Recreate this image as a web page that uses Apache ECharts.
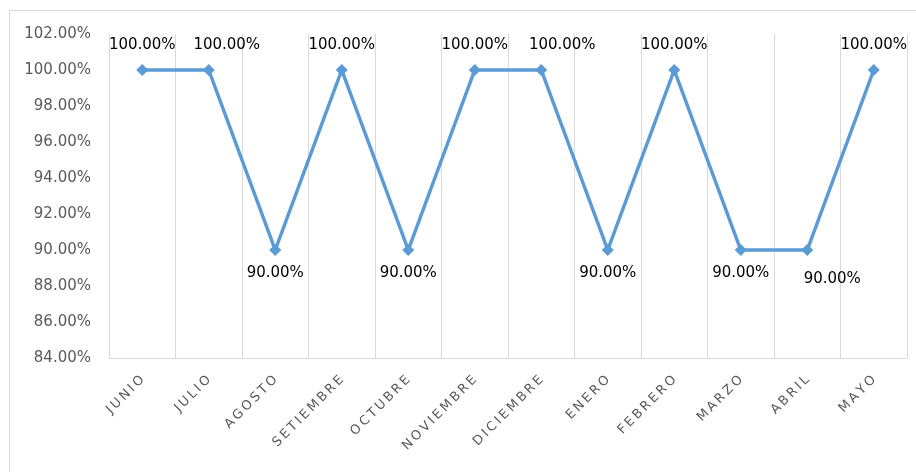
<!DOCTYPE html>
<html>
<head>
<meta charset="utf-8">
<script src="https://cdn.jsdelivr.net/npm/echarts@6/dist/echarts.min.js"></script>
<style>
  html, body { margin: 0; padding: 0; background: #ffffff; }
  #chart { width: 916px; height: 472px; }
</style>
</head>
<body>
<div id="chart"></div>
<script>
// Monthly compliance percentage, June to May
const months = ['JUNIO', 'JULIO', 'AGOSTO', 'SETIEMBRE', 'OCTUBRE', 'NOVIEMBRE',
                'DICIEMBRE', 'ENERO', 'FEBRERO', 'MARZO', 'ABRIL', 'MAYO'];
const compliance = [100, 100, 90, 100, 90, 100, 100, 90, 100, 90, 90, 100];
const yTicks = { min: 84, max: 102, step: 2 };

const fontFamily = 'DejaVu Sans, sans-serif';
const pct = v => v.toFixed(2) + '%';
// Month names are drawn tracked out (thin space between letters)
const tracked = s => s.split('').join('\u2009');

// Labels nudged sideways so neighbouring labels don't collide
const labelNudge = { JULIO: [18, 0], DICIEMBRE: [21, 0], ABRIL: [25, 6] };

// Peaks get their label above the marker, dips below it
const points = compliance.map((v, i) => {
  const label = v >= 100
    ? { position: 'top', distance: 11 }
    : { position: 'bottom', distance: 10 };
  if (labelNudge[months[i]]) label.offset = labelNudge[months[i]];
  return { value: v, label: label };
});

const chart = echarts.init(document.getElementById('chart'), null, { renderer: 'canvas' });

chart.setOption({
  animation: false,
  backgroundColor: '#ffffff',
  graphic: [{
    type: 'rect',
    shape: { x: 9.5, y: 10.5, width: 1000, height: 1000 },
    style: { fill: 'none', stroke: '#d9d9d9', lineWidth: 1 },
    silent: true
  }],
  grid: { left: 109, right: 9, top: 34, bottom: 114, containLabel: false },
  xAxis: {
    type: 'category',
    data: months,
    boundaryGap: true,
    axisLine: { show: true, lineStyle: { color: '#d9d9d9', width: 1 } },
    axisTick: { show: false },
    splitLine: { show: true, lineStyle: { color: '#d9d9d9', width: 1 } },
    axisLabel: {
      rotate: 45,
      interval: 0,
      margin: 20,
      color: '#595959',
      fontFamily: fontFamily,
      fontSize: 13,
      formatter: v => tracked(v)
    }
  },
  yAxis: {
    type: 'value',
    min: yTicks.min,
    max: yTicks.max,
    interval: yTicks.step,
    axisLine: { show: false },
    axisTick: { show: false },
    splitLine: { show: false },
    axisLabel: {
      margin: 18,
      color: '#595959',
      fontFamily: fontFamily,
      fontSize: 15,
      formatter: v => pct(v)
    }
  },
  series: [{
    type: 'line',
    data: points,
    symbol: 'diamond',
    symbolSize: 12,
    lineStyle: { color: '#5b9bd5', width: 3.5 },
    itemStyle: { color: '#5b9bd5' },
    label: {
      show: true,
      color: '#000000',
      fontFamily: fontFamily,
      fontSize: 15,
      formatter: p => pct(p.value)
    }
  }]
});
</script>
</body>
</html>
